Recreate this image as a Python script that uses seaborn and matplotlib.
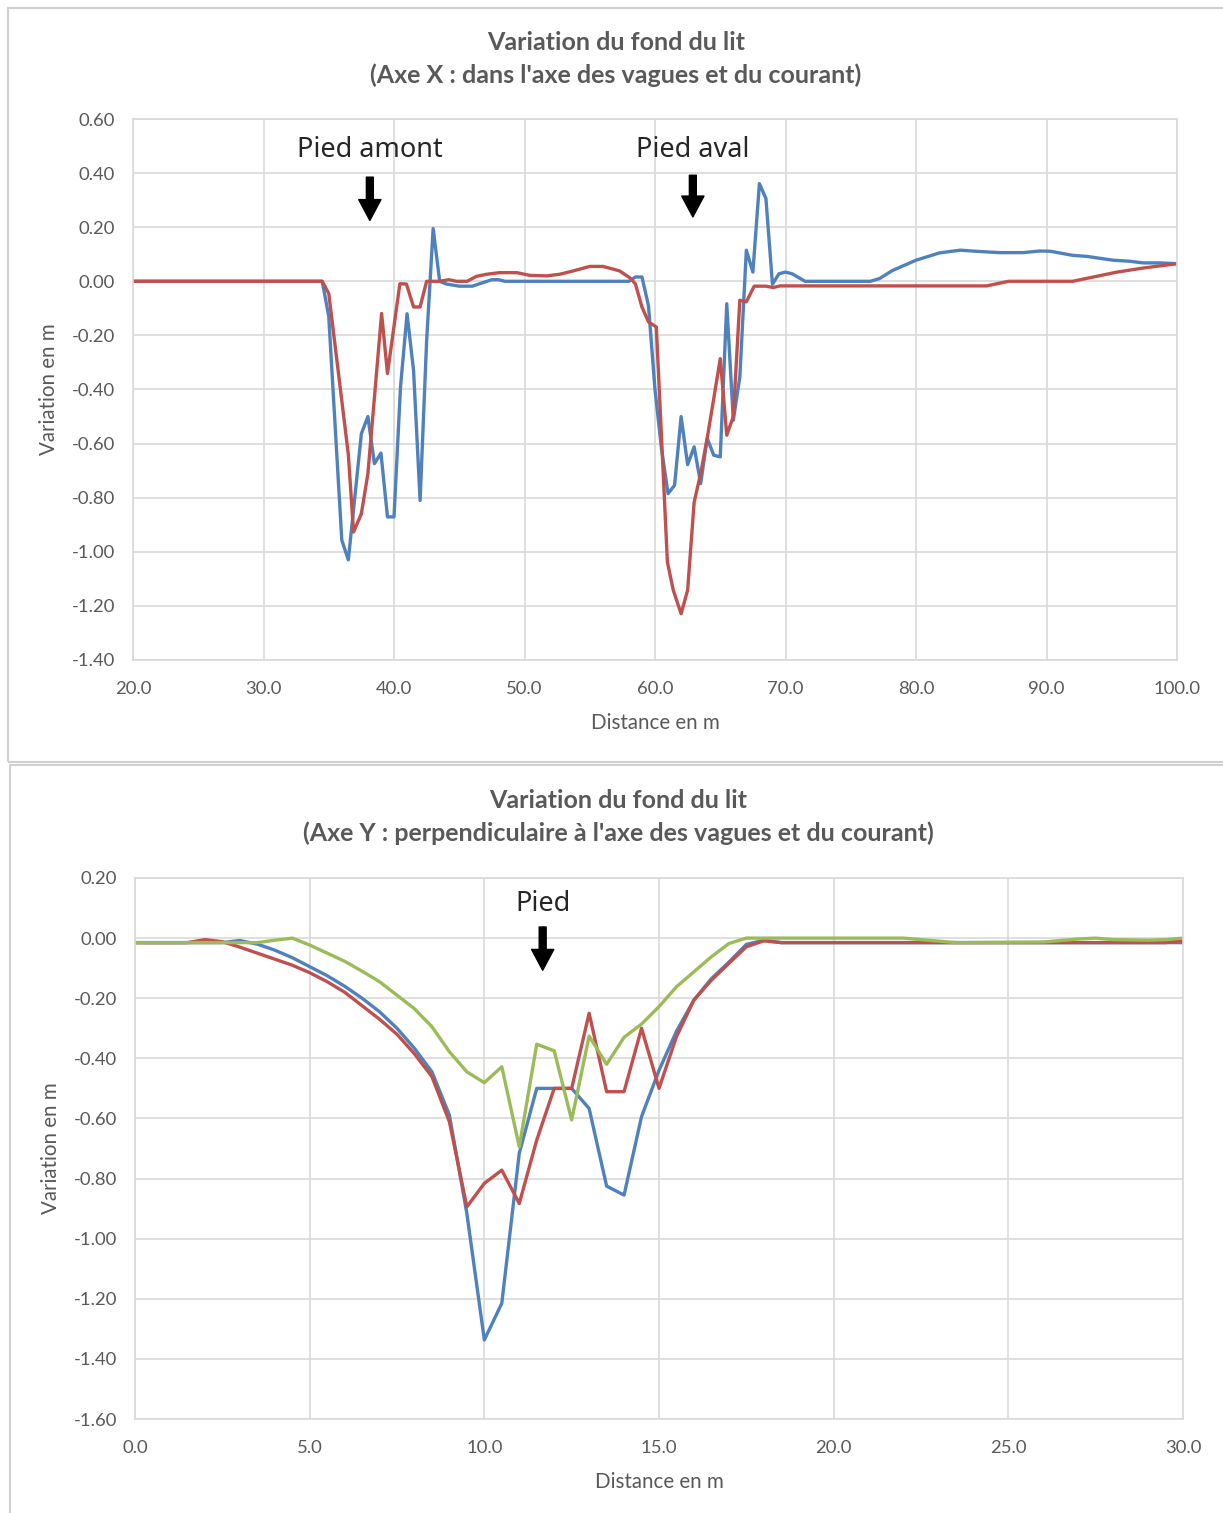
import numpy as np
import pandas as pd
import matplotlib
matplotlib.use("Agg")
import matplotlib.pyplot as plt
from matplotlib.patches import Rectangle
import seaborn as sns

# ---------------- Axe X profile (distance 20-100 m) ----------------
x_axe_x_blue = [20.0, 34.5, 35.0, 36.0, 36.5, 37.5, 38.0, 38.5, 39.0, 39.5, 40.0,
                40.5, 41.0, 41.5, 42.0, 42.5, 43.0, 43.5, 44.0, 45.0, 46.0, 47.5,
                48.0, 48.5, 58.0, 58.5, 59.0, 59.5, 60.0, 60.5, 61.0, 61.5, 62.0,
                62.5, 63.0, 63.5, 64.0, 64.5, 65.0, 65.5, 66.0, 66.5, 67.0, 67.5,
                68.0, 68.5, 69.0, 69.5, 70.0, 70.5, 71.5, 76.5, 77.2, 78.2, 80.0,
                81.8, 83.4, 84.6, 86.4, 88.2, 89.5, 90.3, 92.0, 93.1, 95.1, 96.4,
                97.4, 98.7, 100.0]
v_axe_x_blue = [0.0, 0.0, -0.13, -0.957, -1.03, -0.563, -0.50, -0.674, -0.635,
                -0.871, -0.871, -0.39, -0.12, -0.33, -0.81, -0.22, 0.195, 0.0,
                -0.01, -0.018, -0.018, 0.006, 0.006, 0.0, 0.0, 0.016, 0.016,
                -0.09, -0.40, -0.62, -0.785, -0.754, -0.50, -0.678, -0.612,
                -0.748, -0.58, -0.643, -0.649, -0.083, -0.514, -0.354, 0.115,
                0.034, 0.361, 0.306, -0.011, 0.028, 0.034, 0.028, 0.0, 0.0, 0.01,
                0.04, 0.078, 0.105, 0.115, 0.111, 0.106, 0.106, 0.112, 0.111,
                0.096, 0.092, 0.078, 0.074, 0.068, 0.068, 0.065]

x_axe_x_red = [20.0, 34.5, 35.0, 36.5, 36.9, 37.5, 38.0, 39.05, 39.5, 40.45, 40.95,
               41.5, 42.0, 42.5, 43.5, 44.2, 44.8, 45.6, 46.3, 47.1, 48.1, 49.4,
               50.4, 51.7, 52.7, 53.7, 55.0, 56.0, 56.8, 57.3, 58.1, 58.5, 59.0,
               59.5, 60.1, 60.95, 61.4, 62.0, 62.5, 63.0, 63.5, 64.0, 64.5, 65.0,
               65.5, 66.0, 66.5, 67.0, 67.6, 68.5, 69.05, 69.6, 85.4, 87.1, 92.0,
               93.6, 95.4, 97.4, 100.0]
v_axe_x_red = [0.0, 0.0, -0.045, -0.64, -0.927, -0.859, -0.711, -0.119, -0.341,
               -0.009, -0.01, -0.095, -0.095, 0.0, 0.0, 0.006, 0.0, 0.0, 0.018,
               0.026, 0.032, 0.032, 0.022, 0.02, 0.026, 0.038, 0.055, 0.055,
               0.045, 0.038, 0.012, -0.01, -0.095, -0.15, -0.169, -1.038, -1.142,
               -1.229, -1.142, -0.816, -0.711, -0.58, -0.434, -0.286, -0.569,
               -0.50, -0.07, -0.076, -0.018, -0.018, -0.023, -0.017, -0.017, 0.0,
               0.0, 0.016, 0.034, 0.049, 0.065]

# ---------------- Axe Y profile (distance 0-30 m) ----------------
x_axe_y_blue = [0.0, 2.5, 3.0, 3.5, 4.0, 4.5, 5.0, 5.5, 6.0, 6.5, 7.0, 7.5, 8.0,
                8.5, 9.0, 9.5, 10.0, 10.5, 11.0, 11.5, 12.0, 12.5, 13.0, 13.5,
                14.0, 14.5, 15.0, 15.5, 16.0, 16.5, 17.0, 17.5, 18.0, 18.5, 30.0]
v_axe_y_blue = [-0.015, -0.015, -0.008, -0.02, -0.04, -0.065, -0.095, -0.125,
                -0.16, -0.20, -0.245, -0.30, -0.367, -0.445, -0.589, -0.916,
                -1.337, -1.215, -0.716, -0.50, -0.50, -0.50, -0.567, -0.825,
                -0.855, -0.594, -0.44, -0.31, -0.206, -0.135, -0.08, -0.021,
                -0.007, -0.015, -0.015]

x_axe_y_red = [0.0, 1.5, 2.0, 2.5, 3.0, 3.5, 4.0, 4.5, 5.0, 5.5, 6.0, 6.5, 7.0,
               7.5, 8.0, 8.5, 9.0, 9.5, 10.0, 10.5, 11.0, 11.5, 12.0, 12.5, 13.0,
               13.5, 14.0, 14.5, 15.0, 15.5, 16.0, 16.5, 17.0, 17.5, 18.0, 18.5,
               29.5, 30.0]
v_axe_y_red = [-0.015, -0.015, -0.005, -0.012, -0.03, -0.05, -0.07, -0.09,
               -0.115, -0.145, -0.18, -0.225, -0.27, -0.32, -0.385, -0.461,
               -0.611, -0.894, -0.816, -0.772, -0.883, -0.672, -0.50, -0.50,
               -0.25, -0.511, -0.511, -0.30, -0.50, -0.328, -0.206, -0.14,
               -0.084, -0.029, -0.009, -0.015, -0.015, -0.008]

x_axe_y_green = [0.0, 3.5, 4.0, 4.5, 5.0, 5.5, 6.0, 6.5, 7.0, 7.5, 8.0, 8.5, 9.0,
                 9.5, 10.0, 10.5, 11.0, 11.5, 12.0, 12.5, 13.0, 13.5, 14.0, 14.5,
                 15.0, 15.5, 16.0, 16.5, 17.0, 17.5, 22.0, 23.0, 23.5, 26.0, 26.5,
                 27.0, 27.5, 28.0, 29.0, 29.5, 30.0]
v_axe_y_green = [-0.015, -0.015, -0.007, 0.0, -0.023, -0.05, -0.077, -0.11,
                 -0.145, -0.19, -0.235, -0.295, -0.378, -0.445, -0.481, -0.428,
                 -0.694, -0.353, -0.375, -0.605, -0.326, -0.42, -0.33, -0.286,
                 -0.228, -0.162, -0.112, -0.062, -0.018, 0.0, 0.0, -0.01, -0.015,
                 -0.013, -0.008, -0.003, 0.0, -0.005, -0.007, -0.005, 0.0]

top_xticks = [20, 30, 40, 50, 60, 70, 80, 90, 100]
top_yticks = [-1.4, -1.2, -1.0, -0.8, -0.6, -0.4, -0.2, 0.0, 0.2, 0.4, 0.6]
bot_xticks = [0, 5, 10, 15, 20, 25, 30]
bot_yticks = [-1.6, -1.4, -1.2, -1.0, -0.8, -0.6, -0.4, -0.2, 0.0, 0.2]

title_top = "Variation du fond du lit\n(Axe X : dans l'axe des vagues et du courant)"
title_bot = "Variation du fond du lit\n(Axe Y : perpendiculaire à l'axe des vagues et du courant)"

BLUE, RED, GREEN = "#4F81BD", "#C0504D", "#9BBB59"
GRID = "#D9D9D9"
TXT = "#595959"

sns.set_theme(style="white")
plt.rcParams["font.family"] = ["Lato", "DejaVu Sans"]

W, H = 1223, 1513
fig = plt.figure(figsize=(W / 100, H / 100), dpi=100)
fig.patch.set_facecolor("white")

# chart area frames
fig.add_artist(Rectangle((8 / W, 1 - 762 / H), 1240 / W, 754 / H,
                         transform=fig.transFigure, fill=False,
                         edgecolor="#D0D0D0", linewidth=1.5))
fig.add_artist(Rectangle((10 / W, 1 - 1530 / H), 1240 / W, 765 / H,
                         transform=fig.transFigure, fill=False,
                         edgecolor="#D0D0D0", linewidth=1.5))


def long_frame(series):
    parts = []
    for name, xs, vs in series:
        parts.append(pd.DataFrame({"distance": xs, "variation": vs, "serie": name}))
    return pd.concat(parts, ignore_index=True)


def style_axes(ax, xticks, yticks, xlim, ylim):
    ax.set_xlim(*xlim)
    ax.set_ylim(*ylim)
    ax.set_xticks(xticks)
    ax.set_xticklabels([f"{t:.1f}" for t in xticks])
    ax.set_yticks(yticks)
    ax.set_yticklabels([f"{t:.2f}" for t in yticks])
    ax.grid(True, color=GRID, linewidth=1.2)
    ax.set_axisbelow(True)
    for s in ax.spines.values():
        s.set_color(GRID)
        s.set_linewidth(1.2)
    ax.tick_params(axis="both", length=0, labelsize=13.3, colors=TXT)
    ax.tick_params(axis="x", pad=15)
    ax.tick_params(axis="y", pad=13)
    ax.set_xlabel("Distance en m", fontsize=14.8, color=TXT, labelpad=12)
    ax.set_ylabel("Variation en m", fontsize=14.8, color=TXT, labelpad=9)


# ---------------- top chart ----------------
ax1 = fig.add_axes([133 / W, 1 - 660 / H, 1044 / W, 541 / H])
df_top = long_frame([("b", x_axe_x_blue, v_axe_x_blue),
                     ("r", x_axe_x_red, v_axe_x_red)])
sns.lineplot(data=df_top, x="distance", y="variation", hue="serie",
             palette={"b": BLUE, "r": RED}, estimator=None, sort=False,
             linewidth=2.4, legend=False, ax=ax1)
style_axes(ax1, top_xticks, top_yticks, (20, 100), (-1.4, 0.6))

arrow_kw = dict(facecolor="black", edgecolor="black", width=5, headwidth=16,
                headlength=15, shrink=0)
note_kw = dict(ha="center", va="center", fontsize=19.5, color="#262626",
               family=["Noto Sans", "DejaVu Sans"])
ax1.annotate("", xy=(38.15, 0.225), xytext=(38.15, 0.385), arrowprops=arrow_kw)
ax1.annotate("", xy=(62.9, 0.238), xytext=(62.9, 0.392), arrowprops=arrow_kw)
ax1.text(38.15, 0.485, "Pied amont", **note_kw)
ax1.text(62.9, 0.485, "Pied aval", **note_kw)

fig.text(616 / W, 1 - 59 / H, title_top, ha="center", va="center",
         fontsize=18, fontweight="bold", color=TXT, linespacing=1.45)

# ---------------- bottom chart ----------------
ax2 = fig.add_axes([135 / W, 1 - 1419 / H, 1048 / W, 541 / H])
df_bot = long_frame([("b", x_axe_y_blue, v_axe_y_blue),
                     ("r", x_axe_y_red, v_axe_y_red),
                     ("g", x_axe_y_green, v_axe_y_green)])
sns.lineplot(data=df_bot, x="distance", y="variation", hue="serie",
             palette={"b": BLUE, "r": RED, "g": GREEN}, estimator=None,
             sort=False, linewidth=2.4, legend=False, ax=ax2)
style_axes(ax2, bot_xticks, bot_yticks, (0, 30), (-1.6, 0.2))

ax2.annotate("", xy=(11.67, -0.107), xytext=(11.67, 0.037), arrowprops=arrow_kw)
ax2.text(11.67, 0.113, "Pied", **note_kw)

fig.text(618 / W, 1 - 817 / H, title_bot, ha="center", va="center",
         fontsize=18, fontweight="bold", color=TXT, linespacing=1.45)

fig.savefig("out.png", dpi=100, facecolor="white")
